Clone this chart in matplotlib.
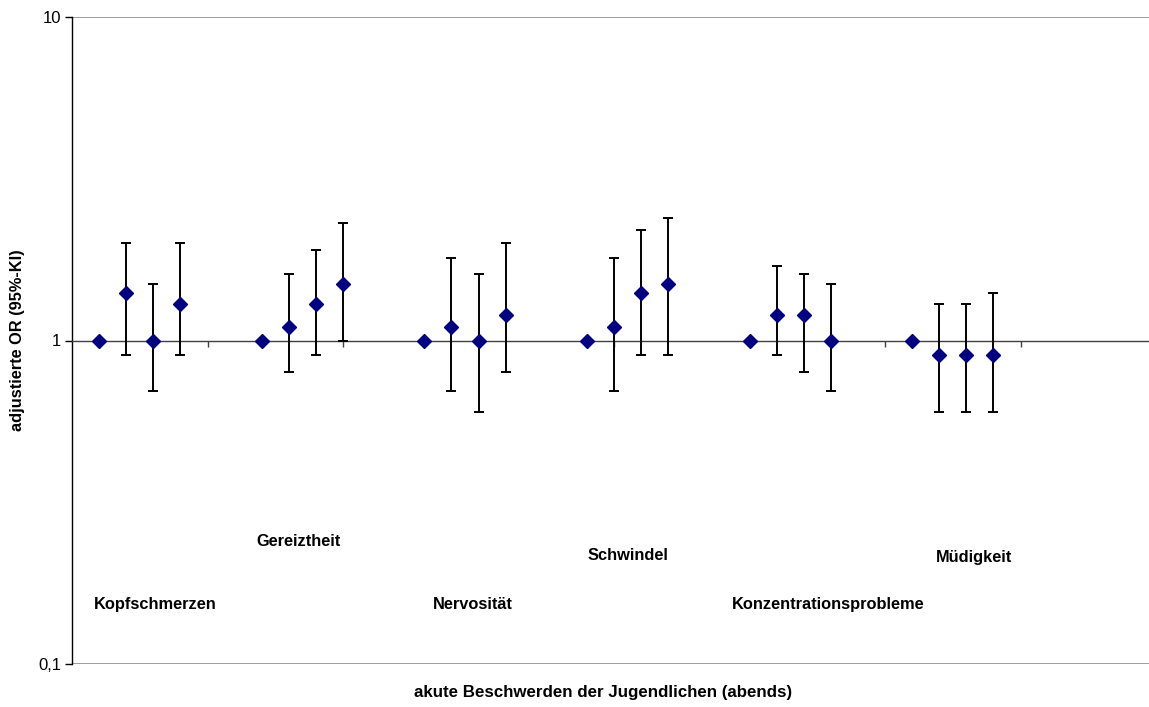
import numpy as np
import matplotlib
matplotlib.use("Agg")
import matplotlib.pyplot as plt
from matplotlib.ticker import FixedLocator, NullLocator, FixedFormatter

plt.rcParams['font.family'] = ['Liberation Sans', 'DejaVu Sans']

# Complaints (groups) and four exposure levels per group (first = reference)
beschwerden = ["Kopfschmerzen", "Gereiztheit", "Nervosität",
               "Schwindel", "Konzentrationsprobleme", "Müdigkeit"]

# Adjusted odds ratios per group
or_kopf   = [1.0, 1.4, 1.0, 1.3]
or_gereiz = [1.0, 1.1, 1.3, 1.5]
or_nerv   = [1.0, 1.1, 1.0, 1.2]
or_schw   = [1.0, 1.1, 1.4, 1.5]
or_konz   = [1.0, 1.2, 1.2, 1.0]
or_muede  = [1.0, 0.9, 0.9, 0.9]

# Lower 95% CI limits (reference level has none)
ki_unten_kopf   = [np.nan, 0.9, 0.7, 0.9]
ki_unten_gereiz = [np.nan, 0.8, 0.9, 1.0]
ki_unten_nerv   = [np.nan, 0.7, 0.6, 0.8]
ki_unten_schw   = [np.nan, 0.7, 0.9, 0.9]
ki_unten_konz   = [np.nan, 0.9, 0.8, 0.7]
ki_unten_muede  = [np.nan, 0.6, 0.6, 0.6]

# Upper 95% CI limits
ki_oben_kopf   = [np.nan, 2.0, 1.5, 2.0]
ki_oben_gereiz = [np.nan, 1.6, 1.9, 2.3]
ki_oben_nerv   = [np.nan, 1.8, 1.6, 2.0]
ki_oben_schw   = [np.nan, 1.8, 2.2, 2.4]
ki_oben_konz   = [np.nan, 1.7, 1.6, 1.5]
ki_oben_muede  = [np.nan, 1.3, 1.3, 1.4]

# Group label anchors (x in slot units, y on the OR scale)
label_x = [3.06, 8.34, 14.8, 20.5, 27.9, 33.3]
label_hoehe = [0.153, 0.24, 0.153, 0.216, 0.153, 0.214]

or_werte = [or_kopf, or_gereiz, or_nerv, or_schw, or_konz, or_muede]
ki_unten = [ki_unten_kopf, ki_unten_gereiz, ki_unten_nerv,
            ki_unten_schw, ki_unten_konz, ki_unten_muede]
ki_oben = [ki_oben_kopf, ki_oben_gereiz, ki_oben_nerv,
           ki_oben_schw, ki_oben_konz, ki_oben_muede]

fig = plt.figure(figsize=(11.49, 7.07), dpi=100)
ax = fig.add_axes([72/1149, 1 - 664/707, 1 - 72/1149, (664 - 17)/707])

ax.set_yscale('log')
ax.set_ylim(0.1, 10)
x_max = (1149 - 72) / 27.1
ax.set_xlim(0, x_max)

grau = '#8c8c8c'
ax.axhline(10, color=grau, lw=1.2, zorder=1)
ax.axhline(0.1, color=grau, lw=1.2, zorder=1)

# x axis crossing at OR = 1
for s in ['top', 'right']:
    ax.spines[s].set_visible(False)
ax.spines['bottom'].set_position(('data', 1))
ax.spines['bottom'].set_color('#404040')
ax.spines['bottom'].set_linewidth(1.0)
ax.spines['left'].set_color('black')
ax.spines['left'].set_linewidth(1.0)

ax.xaxis.set_major_locator(FixedLocator(np.arange(5, x_max, 5)))
ax.tick_params(axis='x', direction='out', length=4, width=1, color='#404040',
               labelbottom=False)

ax.yaxis.set_major_locator(FixedLocator([0.1, 1, 10]))
ax.yaxis.set_major_formatter(FixedFormatter(['0,1', '1', '10']))
ax.yaxis.set_minor_locator(NullLocator())
ax.tick_params(axis='y', direction='out', length=5, width=1, labelsize=12,
               pad=3)

for g, name in enumerate(beschwerden):
    xs = g * 6 + 1 + np.arange(4)
    ors = np.array(or_werte[g])
    lo = np.array(ki_unten[g])
    hi = np.array(ki_oben[g])
    m = ~np.isnan(lo)
    ax.errorbar(xs[m], ors[m], yerr=[ors[m] - lo[m], hi[m] - ors[m]],
                fmt='none', ecolor='black', elinewidth=1.4, capsize=3.5,
                capthick=1.4, zorder=3)
    ax.plot(xs, ors, linestyle='none', marker='D', markersize=7,
            color='#000080', zorder=4)
    ax.text(label_x[g], label_hoehe[g], name, ha='center', va='center',
            fontsize=11.8, fontweight='bold')

ax.set_ylabel('adjustierte OR (95%-KI)', fontsize=11.8, fontweight='bold')
ax.yaxis.set_label_coords(-(72 - 25)/1077, 0.5)
ax.set_xlabel('akute Beschwerden der Jugendlichen (abends)', fontsize=12.2,
              fontweight='bold')
ax.xaxis.set_label_coords((603 - 72)/1077, -(685 - 664)/647)

fig.savefig('out.png', dpi=100)
